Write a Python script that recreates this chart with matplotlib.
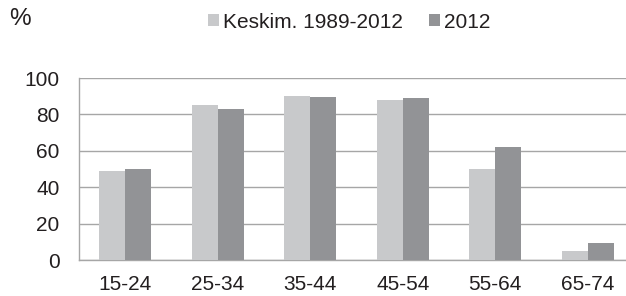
import numpy as np
import matplotlib
matplotlib.use("Agg")
import matplotlib.pyplot as plt

plt.rcParams['font.family'] = ['Liberation Sans', 'DejaVu Sans']

groups = ['15-24', '25-34', '35-44', '45-54', '55-64', '65-74']
avg_1989_2012 = [48.9, 85.2, 90.1, 87.7, 50.2, 5.1]
year_2012 = [50.0, 83.0, 89.4, 89.2, 62.0, 9.5]
series_labels = ['Keskim. 1989-2012', '2012']

light = '#c8c9cb'
dark = '#929396'
grid_col = '#a6a6a6'
text_col = '#231f20'

fig = plt.figure(figsize=(6.26, 2.96), dpi=100)
# axes run a little past the right edge, like the cropped original
ax = fig.add_axes([79 / 626, 36 / 296, 555 / 626, 182 / 296])

x = np.arange(len(groups))
w = 0.28
ax.bar(x - w / 2, avg_1989_2012, w, color=light, label=series_labels[0], zorder=3)
ax.bar(x + w / 2, year_2012, w, color=dark, label=series_labels[1], zorder=3)

ax.set_xlim(-0.5, len(groups) - 0.5)
ax.set_ylim(0, 100)
ax.set_yticks(range(0, 101, 20))
ax.set_xticks(x)
ax.set_xticklabels(groups)
ax.yaxis.grid(True, color=grid_col, linewidth=1.0, zorder=0)
ax.tick_params(axis='both', length=0, labelsize=15, colors=text_col)
ax.tick_params(axis='x', pad=11)
ax.tick_params(axis='y', pad=14)
for side in ['top', 'right']:
    ax.spines[side].set_visible(False)
for side in ['left', 'bottom']:
    ax.spines[side].set_color(grid_col)
    ax.spines[side].set_linewidth(1.0)

fig.text(9 / 626, 1 - 19 / 296, '%', fontsize=17.5, color=text_col, va='center', ha='left')
fig.legend(loc='center left', bbox_to_anchor=(208 / 626, 1 - 22 / 296), ncol=2,
           frameon=False, fontsize=15, handlelength=0.53, handleheight=0.53,
           handletextpad=0.2, columnspacing=1.25, labelcolor=text_col, borderaxespad=0,
           borderpad=0)

fig.savefig('out.png', dpi=100)
